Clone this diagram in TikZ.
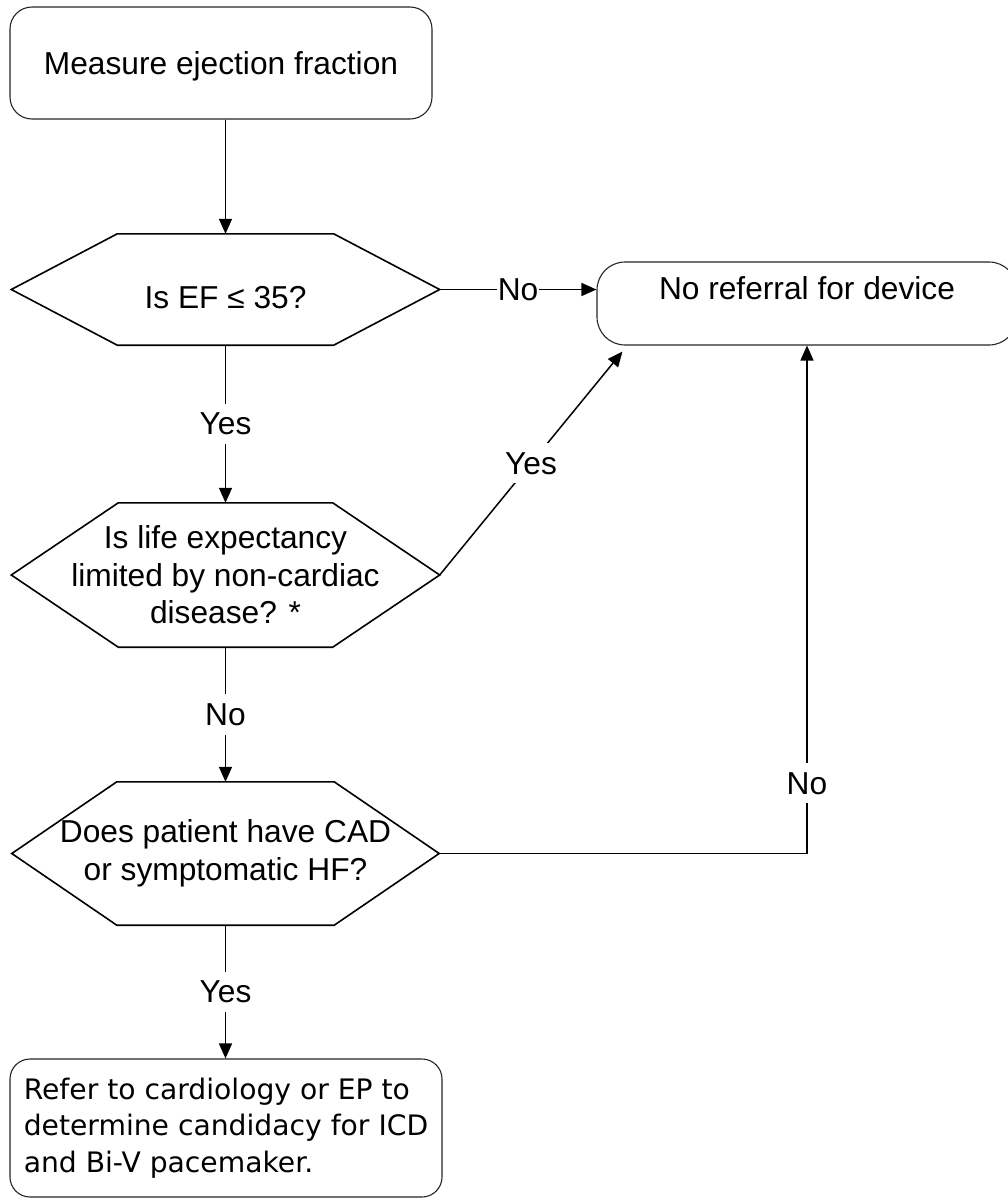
\documentclass[tikz,border=0pt]{standalone}
\usepackage{fontspec}
\setmainfont{Liberation Sans}
\newfontfamily\tahfont{DejaVu Sans}
\usetikzlibrary{arrows.meta}
\newcommand\hexoutline[2]{\draw[hexline] (#1.west) -- ([xshift=#2]#1.north west) -- ([xshift=-#2]#1.north east) -- (#1.east) -- ([xshift=-#2]#1.south east) -- ([xshift=#2]#1.south west) -- cycle;}
\begin{document}
\begin{tikzpicture}[x=1pt,y=-1pt,
  every node/.style={font=\fontsize{31.7}{37.5}\selectfont},
  box/.style={draw=black!85, line width=1.1pt, inner sep=0pt},
  hexbox/.style={inner sep=0pt, align=center},
  hexline/.style={draw=black, line width=1.6pt, line join=miter},
  arr/.style={line width=1.5pt, -{Triangle[length=15pt,width=13pt]}},
  lbl/.style={fill=white, inner xsep=1pt, inner ysep=9pt}]
\useasboundingbox (0,0) rectangle (1008,1200);
\fill[white] (0,0) rectangle (1008,1200);

\node[box, rounded corners=22pt, minimum width=422pt, minimum height=112pt, text height=23pt, text depth=0pt] (b1) at (221,63) {Measure ejection fraction};

\node[hexbox, minimum width=428pt, minimum height=111pt, text height=37pt, text depth=0pt] (h1) at (225.5,289.5) {Is EF ≤ 35?};
\hexoutline{h1}{106pt}

\node[box, rounded corners=28pt, minimum width=420pt, minimum height=83pt, text height=23pt, text depth=32pt] (b2) at (807,303.5) {No referral for device};

\node[hexbox, minimum width=428pt, minimum height=144pt] (h2) at (225.5,575) {Is life expectancy\\limited by non-cardiac\\disease? *};
\hexoutline{h2}{107pt}

\node[hexbox, minimum width=427pt, minimum height=143pt] (h3) at (225.5,853.5) {Does patient have CAD\\or symptomatic HF?};
\hexoutline{h3}{105pt}

\node[box, rounded corners=20pt, minimum width=432pt, minimum height=138pt, align=left, font=\tahfont\fontsize{28.2}{36.7}\selectfont] (b3) at (226,1128) {Refer to cardiology or EP to\\determine candidacy for ICD\\and Bi-V pacemaker.};

\draw[arr] (b1.south -| h1.north) -- (h1.north);
\draw[arr] (h1.east) -- node[lbl, inner ysep=4pt]{No} (h1.east -| b2.west);
\draw[arr] (h1.south) -- node[lbl]{Yes} (h2.north);
\draw[arr] (h2.east) -- node[lbl]{Yes} ([xshift=26pt,yshift=-6pt]b2.south west);
\draw[arr] (h2.south) -- node[lbl]{No} (h3.north);
\draw[arr] (h3.east) -| node[lbl, pos=0.569]{No} (b2.south);
\draw[arr] (h3.south) -- node[lbl]{Yes} (h3.south |- b3.north);
\end{tikzpicture}
\end{document}
